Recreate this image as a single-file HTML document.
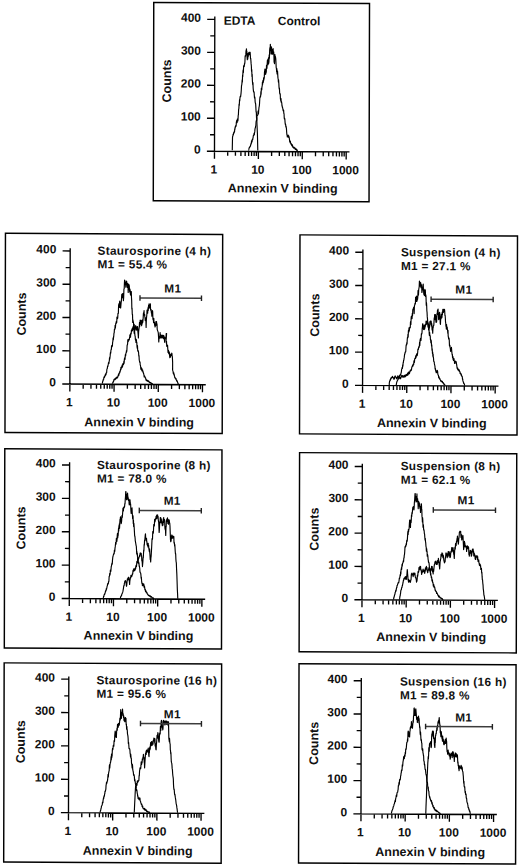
<!DOCTYPE html>
<html><head><meta charset="utf-8"><style>
html,body{margin:0;padding:0;background:#fff;}
svg{display:block;}
text{font-family:"Liberation Sans",sans-serif;font-weight:bold;fill:#111;}
.tl{font-size:12px;}
.tt{font-size:11.8px;letter-spacing:0.3px;}
.at{font-size:12.5px;}
.tt2{font-size:12px;}
.box{fill:none;stroke:#000;stroke-width:1.45;}
.ax{fill:none;stroke:#000;stroke-width:1.35;}
.cv{fill:none;stroke:#000;stroke-width:1.15;stroke-linejoin:round;}
.m1{fill:none;stroke:#3c3c3c;stroke-width:1.5;}
.m1c{fill:none;stroke:#222;stroke-width:1.4;}
</style></head><body>
<svg width="520" height="867" viewBox="0 0 520 867">
<g transform="matrix(1 0.005 -0.0024 1 0.25 -1.31)">
<rect x="153.51" y="2.96" width="215.76" height="198.29" class="box"/>
<path d="M214.6 16.8V159M207 151.5H349.6M207 151.5H214.6M210.1 135.01H214.6M207 118.53H214.6M210.1 102.04H214.6M207 85.55H214.6M210.1 69.06H214.6M207 52.58H214.6M210.1 36.09H214.6M207 19.6H214.6M227.82 151.5V156M235.55 151.5V156M241.03 151.5V156M245.28 151.5V156M248.76 151.5V156M251.7 151.5V156M254.25 151.5V156M256.49 151.5V156M271.72 151.5V156M279.45 151.5V156M284.93 151.5V156M289.18 151.5V156M292.66 151.5V156M295.6 151.5V156M298.15 151.5V156M300.39 151.5V156M258.5 151.5V159M315.62 151.5V156M323.35 151.5V156M328.83 151.5V156M333.08 151.5V156M336.56 151.5V156M339.5 151.5V156M342.05 151.5V156M344.29 151.5V156M302.4 151.5V159M346.3 151.5V159" class="ax"/>
<text x="200.8" y="153.9" class="tl" text-anchor="end">0</text>
<text x="200.8" y="120.93" class="tl" text-anchor="end">100</text>
<text x="200.8" y="87.95" class="tl" text-anchor="end">200</text>
<text x="200.8" y="54.98" class="tl" text-anchor="end">300</text>
<text x="200.8" y="22" class="tl" text-anchor="end">400</text>
<text x="214.1" y="173.8" class="tl" text-anchor="middle">1</text>
<text x="258" y="173.8" class="tl" text-anchor="middle">10</text>
<text x="301.9" y="173.8" class="tl" text-anchor="middle">100</text>
<text x="345.8" y="173.8" class="tl" text-anchor="middle">1000</text>
<text x="282.9" y="192.5" class="at" text-anchor="middle">Annexin V binding</text>
<text transform="translate(170.9 81.4) rotate(-90)" class="at" text-anchor="middle">Counts</text>
<polyline points="232.4,150.5 232.4,149.23 232.6,137.5 232.8,136.2 233,135.93 233.2,134.18 233.4,135.07 233.6,134.07 233.8,132.7 234,132.38 234.2,133.17 234.4,131.18 234.6,132.12 234.8,128.99 235,129.49 235.2,127.08 235.4,127.53 235.6,126.05 235.8,125.81 236,126.46 236.2,125.9 236.4,122.12 236.6,121.7 236.8,120.56 237,122.91 237.2,122.33 237.4,119.25 237.6,120.72 237.8,121.11 238,120.47 238.22,115.64 238.43,114.63 238.65,109.36 238.87,108.79 239.08,104.08 239.3,105.49 239.52,99.79 239.73,101.17 239.95,98.1 240.17,96.59 240.38,96.42 240.6,96.79 240.82,94.95 241.03,93.19 241.25,90.43 241.47,85.64 241.68,85.32 241.9,83.26 242.1,80.02 242.3,82.11 242.5,75.15 242.7,76.57 242.9,71.32 243.1,69.84 243.3,72.68 243.52,65.8 243.73,66.47 243.95,66.28 244.17,66.66 244.38,63.55 244.6,64.06 244.82,61.95 245.04,55.86 245.26,56.11 245.48,56.31 245.7,54.72 245.9,50.59 246.1,51.57 246.3,48.95 246.53,51.89 246.75,51.57 246.97,57.26 247.2,59.68 247.42,53.91 247.64,59.05 247.86,53.53 248.08,56.7 248.3,53.02 248.52,54.16 248.73,54.89 248.95,52.3 249.17,52.67 249.38,54.68 249.6,52.3 249.8,53.09 250,52.3 250.2,55.14 250.4,58.82 250.6,58.23 250.82,61.14 251.03,63.93 251.25,65.86 251.47,71.33 251.68,69.52 251.9,76.61 252.1,74.31 252.3,80.36 252.5,82.83 252.7,84.76 252.9,82.61 253.1,87.98 253.3,89.89 253.5,91.65 253.7,91.21 253.9,92.34 254.1,92.8 254.3,95.8 254.5,97.87 254.7,96.83 254.9,97.69 255.1,101.35 255.3,103.04 255.5,103.21 255.7,104.5 255.9,108.16 256.12,111.99 256.35,111.86 256.57,118.21 256.8,117.72 257.03,124.17 257.27,129.26 257.5,134.12 257.9,150.5" class="cv"/>
<polyline points="248.6,150.5 248.8,150.04 249,149.23 249.2,148.29 249.4,147.64 249.6,147.27 249.8,147.37 250,146.54 250.2,146.88 250.4,146.36 250.6,145.89 250.8,144.64 251,144.6 251.2,143.17 251.4,143.84 251.6,141.33 251.8,140.72 252,142.12 252.2,141.32 252.4,139.47 252.6,139.15 252.8,139.76 253,138.16 253.2,137.57 253.4,135.55 253.6,135.73 253.8,134.8 254,134.57 254.2,133.24 254.4,134.86 254.6,132.82 254.82,131.94 255.03,129.3 255.25,128.14 255.47,127.59 255.68,126.11 255.9,125.85 256.12,121.82 256.33,120.56 256.55,121.1 256.77,119.88 256.98,116.48 257.2,115.24 257.42,115.51 257.63,115.34 257.85,114.92 258.07,111.29 258.28,110.78 258.5,113.85 258.7,110.39 258.9,108.57 259.1,106.61 259.3,106.17 259.53,103.81 259.77,98.77 260,96.75 260.22,97.56 260.43,95.78 260.65,96.15 260.87,91.57 261.08,94.18 261.3,88.34 261.52,89.8 261.73,89.84 261.95,86.5 262.17,86.34 262.38,82.01 262.6,84.24 262.83,80.66 263.07,82.49 263.3,82.15 263.53,77.82 263.77,80.16 264,77.79 264.2,78.15 264.4,72.08 264.6,71.23 264.83,68.96 265.07,73.83 265.3,73.78 265.52,74.34 265.75,73.51 265.98,68.71 266.2,72.19 266.42,65.25 266.64,68.02 266.86,68.35 267.08,63.89 267.3,60.28 267.52,62.5 267.73,59.39 267.95,64.67 268.17,62.52 268.38,57.67 268.6,63.48 268.83,61.63 269.07,54.87 269.3,58.26 269.52,50.38 269.75,47.64 269.98,50.49 270.2,44.3 270.43,49.28 270.67,47.94 270.9,53.94 271.13,47.78 271.37,46.88 271.6,51.88 271.83,49.78 272.07,54.2 272.3,54.19 272.52,49.27 272.75,53.99 272.98,48.53 273.2,52.78 273.4,53.62 273.6,51.86 273.8,55.5 274,62.2 274.2,60.67 274.4,63.54 274.6,56.26 274.8,54.43 275,58.01 275.2,56.29 275.43,57.23 275.65,58.75 275.88,62.8 276.1,67.44 276.33,68.29 276.55,71.74 276.77,68.41 277,73.8 277.23,72.1 277.45,71.05 277.67,74.57 277.9,78.08 278.12,78.62 278.33,81.98 278.55,79.85 278.77,83.15 278.98,87.04 279.2,88.81 279.4,87.92 279.6,92.68 279.8,93.71 280,94.3 280.2,93.73 280.4,98.96 280.6,99.29 280.8,100.96 281,98.46 281.2,102.19 281.4,101.4 281.6,102.15 281.8,103.21 282,105.81 282.2,105.73 282.4,107.33 282.6,107.42 282.8,108.57 283,109.65 283.2,110.8 283.42,110.79 283.63,110.04 283.85,113.41 284.07,113.58 284.28,117.92 284.5,118.92 284.7,118.22 284.9,119.18 285.1,122 285.3,124.1 285.5,123.59 285.7,124.6 285.9,126.75 286.1,125.84 286.3,127.14 286.5,128.52 286.73,132.17 286.97,134.46 287.2,135.08 287.4,136.79 287.6,135.75 287.8,135.83 288,136.34 288.2,134.88 288.4,137 288.6,136.95 288.8,135.8 289,136.25 289.2,137.67 289.4,138.14 289.6,139.72 289.8,141.51 290.03,140.36 290.26,142.65 290.49,141.29 290.71,143.01 290.94,143.59 291.17,144.2 291.4,143.64 291.6,143.65 291.8,145.28 292,144.14 292.2,145.77 292.4,144.68 292.6,145.02 292.8,146.81 293,146.06 293.2,147.03 293.4,147.53 293.6,147.76 293.8,147.88 294,147.5 294.2,147.15 294.4,147.5 294.6,147.4 294.8,148.02 295,148.55 295.2,147.97 295.4,149.17 295.6,148.9 295.8,149.33 296,148.64 296.2,148.71 296.4,149.8 296.6,149.4 296.8,149.91 297,150.16 297.2,149.76 297.4,150.05 297.6,150.34 297.8,150.5" class="cv"/>
<text x="223.5" y="24.9" class="tt2">EDTA</text>
<text x="277.6" y="25.0" class="tt2">Control</text>
</g>
<g transform="matrix(1 0.005 -0.0024 1 0.8 -0.57)">
<rect x="5.22" y="233.88" width="217.22" height="199.08" class="box"/>
<path d="M70 248.4V391.8M62.4 384.3H205.9M62.4 384.3H70M65.5 367.66H70M62.4 351.02H70M65.5 334.39H70M62.4 317.75H70M65.5 301.11H70M62.4 284.48H70M65.5 267.84H70M62.4 251.2H70M83.31 384.3V388.8M91.09 384.3V388.8M96.61 384.3V388.8M100.89 384.3V388.8M104.39 384.3V388.8M107.35 384.3V388.8M109.92 384.3V388.8M112.18 384.3V388.8M127.51 384.3V388.8M135.29 384.3V388.8M140.81 384.3V388.8M145.09 384.3V388.8M148.59 384.3V388.8M151.55 384.3V388.8M154.12 384.3V388.8M156.38 384.3V388.8M114.2 384.3V391.8M171.71 384.3V388.8M179.49 384.3V388.8M185.01 384.3V388.8M189.29 384.3V388.8M192.79 384.3V388.8M195.75 384.3V388.8M198.32 384.3V388.8M200.58 384.3V388.8M158.4 384.3V391.8M202.6 384.3V391.8" class="ax"/>
<text x="56.2" y="386.7" class="tl" text-anchor="end">0</text>
<text x="56.2" y="353.42" class="tl" text-anchor="end">100</text>
<text x="56.2" y="320.15" class="tl" text-anchor="end">200</text>
<text x="56.2" y="286.88" class="tl" text-anchor="end">300</text>
<text x="56.2" y="253.6" class="tl" text-anchor="end">400</text>
<text x="69.5" y="406.6" class="tl" text-anchor="middle">1</text>
<text x="113.7" y="406.6" class="tl" text-anchor="middle">10</text>
<text x="157.9" y="406.6" class="tl" text-anchor="middle">100</text>
<text x="202.1" y="406.6" class="tl" text-anchor="middle">1000</text>
<text x="139.3" y="426.3" class="at" text-anchor="middle">Annexin V binding</text>
<text transform="translate(25.8 314.5) rotate(-90)" class="at" text-anchor="middle">Counts</text>
<text x="97.3" y="254.8" class="tt">Staurosporine (4 h)</text>
<text x="97.3" y="268.3" class="tt">M1 = 55.4 %</text>
<polyline points="102.2,383.6 102.4,383.27 102.6,382.63 102.8,381.34 103,380.59 103.2,381.01 103.4,379.35 103.6,379.27 103.8,379.32 104,377.42 104.2,377.2 104.41,376.62 104.62,377.51 104.83,375.97 105.04,376.38 105.25,375.4 105.46,374.43 105.67,375.39 105.88,373.51 106.09,374.84 106.3,372.87 106.52,372.95 106.73,372.63 106.95,369.57 107.17,368.71 107.38,368.76 107.6,366.72 107.8,365.83 108,366.53 108.2,364.8 108.4,364.18 108.6,362.52 108.8,363.19 109,363.49 109.2,361.4 109.4,360.83 109.6,357.65 109.8,359.27 110,357.78 110.2,355.92 110.4,353.36 110.6,352.06 110.8,353.26 111,350.08 111.2,349.41 111.4,349.42 111.6,345.87 111.8,347.19 112,345.42 112.2,345.74 112.4,346.14 112.63,342.47 112.87,341.28 113.1,337.75 113.32,339.9 113.54,337.62 113.76,336.21 113.98,332.94 114.2,332.86 114.42,328.96 114.65,329.62 114.88,328.96 115.1,325.25 115.3,328.26 115.5,326.32 115.7,323.62 115.9,323.27 116.1,322.4 116.3,321.41 116.5,323.13 116.7,322.43 116.9,317.17 117.1,318.69 117.3,317.42 117.5,318.66 117.7,317.64 117.9,313.4 118.1,313.58 118.3,313.4 118.5,305.85 118.7,304.49 118.9,303.72 119.1,303.53 119.3,307.52 119.5,301.9 119.7,301 119.9,302.56 120.13,306.88 120.37,307.11 120.6,308.02 120.83,305.16 121.07,302.42 121.3,301 121.5,297.18 121.7,294.2 121.9,294.2 122.13,293.95 122.37,297.64 122.6,293.48 122.83,293.7 123.07,294.64 123.3,300.54 123.57,297.74 123.83,288.97 124.1,288.61 124.3,282.84 124.5,280.09 124.7,280.3 124.9,282.32 125.1,283.57 125.3,284.8 125.5,282.83 125.7,287.21 125.9,282.32 126.1,281.47 126.3,283.95 126.5,281.01 126.7,283.83 126.93,283.73 127.17,287.24 127.4,285.21 127.63,283.37 127.87,286.51 128.1,292.36 128.32,285.14 128.55,284.27 128.78,288.98 129,284.7 129.22,286.49 129.44,290.61 129.66,291.96 129.88,289.11 130.1,291.97 130.32,294.29 130.54,295.03 130.76,291.23 130.98,294.4 131.2,291.5 131.4,297.8 131.6,300.45 131.8,308.81 132,308.01 132.23,314.31 132.47,314.49 132.7,322.4 132.9,319.69 133.1,321.41 133.3,321.62 133.5,323.17 133.7,326.29 133.9,326.37 134.1,332.27 134.32,333.48 134.53,329.96 134.75,333.1 134.97,335.62 135.18,336.15 135.4,339.43 135.6,340.22 135.8,338.61 136,342.32 136.2,339.32 136.4,339.71 136.6,342.11 136.8,342.08 137.03,346.35 137.27,348.03 137.5,345.5 137.73,350.19 137.97,351.13 138.2,350.47 138.42,351.35 138.63,352.42 138.85,355.92 139.07,355.41 139.28,359.48 139.5,360.75 139.7,361.56 139.9,362.48 140.1,361.88 140.3,364.91 140.5,365.19 140.7,366.25 140.9,369.16 141.1,369.13 141.3,367.48 141.5,369.17 141.7,370.08 141.9,368.24 142.1,370.74 142.3,369.48 142.5,370.11 142.7,369.78 142.9,371.31 143.1,372.26 143.3,371.75 143.5,373.07 143.7,373.25 143.9,374.12 144.1,375.36 144.3,376.85 144.5,375.7 144.7,375.83 144.9,376.84 145.1,376.76 145.3,376.99 145.5,378.1 145.7,377.73 145.9,378.68 146.1,379.99 146.3,379.16 146.51,380.43 146.72,380.53 146.92,380.47 147.13,380.08 147.34,380.96 147.55,380.24 147.75,380.7 147.96,381.05 148.17,380.34 148.38,381.5 148.58,381.13 148.79,381.51 149,380.99 149.21,381.48 149.42,381.81 149.63,382.42 149.84,382.27 150.05,382.66 150.26,382.37 150.47,382.65 150.68,382.23 150.89,382.68 151.1,383.14 151.31,382.72 151.52,383.14 151.73,383.52 151.94,383.3 152.16,383.42 152.37,383.58 152.58,383.69 152.79,384.02 153,384" class="cv"/>
<polyline points="112.4,383.6 112.6,383.07 112.8,383.11 113,382.34 113.2,381.79 113.4,382.02 113.6,381.8 113.8,380.77 114,379.74 114.2,379.45 114.4,379.86 114.62,379.33 114.83,378.86 115.05,379.63 115.26,379.33 115.48,378.52 115.69,379.09 115.91,378.83 116.12,377.52 116.34,378.44 116.55,377.57 116.77,377.2 116.98,378.27 117.2,377.35 117.4,377.39 117.6,377.67 117.8,377.3 118,375.7 118.2,375.88 118.4,375.89 118.6,374.11 118.8,374.98 119,375.29 119.2,372.94 119.43,373.17 119.67,373.08 119.9,371.23 120.13,372.08 120.37,370.96 120.6,369.27 120.8,369.95 121,367.27 121.2,369.04 121.4,366.93 121.6,367.37 121.8,366.8 122,367.58 122.2,365.08 122.42,367.02 122.65,366.56 122.88,363.67 123.1,363.82 123.33,363.27 123.55,364.74 123.78,363.1 124,360.99 124.22,363.2 124.43,359.35 124.65,358.04 124.87,357.67 125.08,359.36 125.3,355.81 125.5,354.34 125.7,355.8 125.9,353.67 126.1,352.41 126.3,352.8 126.5,350.44 126.7,351.83 126.92,350.41 127.15,345.4 127.38,344.66 127.6,344.23 127.82,339.91 128.04,339.52 128.26,341.61 128.48,339.68 128.7,339.15 128.9,339.63 129.1,339.52 129.3,339.82 129.5,338.21 129.7,336.82 129.9,334.84 130.1,334.82 130.32,335.16 130.53,337.03 130.75,332.87 130.97,333.37 131.18,333.85 131.4,330.01 131.62,331.54 131.83,330.56 132.05,329.91 132.27,328.22 132.48,330.49 132.7,329.9 132.92,326.83 133.14,328.43 133.36,329.24 133.58,324.1 133.8,324.1 134,324.1 134.2,324.59 134.4,329.86 134.6,327.23 134.8,330.48 135.02,328.35 135.23,329.4 135.45,326.94 135.67,325.38 135.88,328.53 136.1,326.8 136.3,327.55 136.5,329.94 136.7,326.8 136.9,327.24 137.1,326.8 137.3,329.83 137.5,326.34 137.72,329.76 137.95,332.11 138.18,334.55 138.4,337.76 138.62,331.6 138.84,329.6 139.06,327.97 139.28,326.6 139.5,322.26 139.72,325.97 139.94,323.12 140.16,320 140.38,322.93 140.6,322.03 140.8,323.16 141,324.38 141.2,320.29 141.4,321.7 141.6,325.59 141.82,322.66 142.05,323.96 142.28,321.25 142.5,319.78 142.72,322.42 142.94,320.1 143.16,317.38 143.38,313.19 143.6,312.61 143.8,311.76 144,310.5 144.2,315.14 144.4,314.47 144.6,314.24 144.8,316.74 145,317.56 145.22,320.36 145.44,317.6 145.66,320.06 145.88,321.38 146.1,327.27 146.32,320.09 146.55,316.71 146.78,314.84 147,309.81 147.2,313 147.4,310.73 147.6,312.96 147.8,309.53 148,307.31 148.2,310.36 148.4,306.26 148.6,304.96 148.8,306.97 149,303.7 149.22,307.96 149.44,305.93 149.66,306.42 149.88,307.2 150.1,305.91 150.3,303.7 150.5,309.24 150.7,309.57 150.9,310.69 151.1,309.48 151.33,312.87 151.57,312.39 151.8,316.06 152.1,314.12 152.4,310.5 152.63,311.47 152.87,318.74 153.1,319.57 153.32,318.7 153.54,322.28 153.76,318.04 153.98,322.59 154.2,323.04 154.4,322.11 154.6,324.96 154.8,323.51 155,326.67 155.2,324.07 155.42,325.9 155.63,325.01 155.85,321.4 156.07,321.4 156.28,322.64 156.5,321.4 156.73,325.23 156.97,323.54 157.2,329.12 157.42,329.87 157.64,330.51 157.86,331.07 158.08,331.52 158.3,332.9 158.55,336.38 158.8,341.63 159.02,338.47 159.24,338.45 159.46,337.61 159.68,336.17 159.9,335.61 160.12,332.3 160.34,337.64 160.56,334.34 160.78,334.66 161,334.98 161.2,337.4 161.4,337.47 161.6,337.68 161.8,335.38 162,335 162.2,336.99 162.4,335 162.64,337.53 162.88,337.33 163.12,335.06 163.36,338.35 163.6,336.77 163.8,335.25 164,338.47 164.2,336.35 164.4,338.04 164.6,341.93 164.8,338.17 165,337.71 165.2,337.82 165.4,338.43 165.6,337.57 165.8,336.51 166,337.88 166.2,333.2 166.4,334.35 166.6,333.2 166.35,337.24 166.1,340.34 166.31,342.68 166.53,341.12 166.74,345.81 166.96,346.22 167.17,344.56 167.39,346.32 167.6,345.07 167.85,349.29 168.1,352.08 168.31,350 168.53,350.2 168.74,353.11 168.96,351.12 169.17,353.8 169.39,352.04 169.6,355.06 169.9,357.33 170.2,357.1 170.4,356.79 170.6,354.82 170.8,353.81 171,354.07 171.2,354.35 171.4,354.61 171.6,355.42 171.8,352.8 172,353.45 172.2,355.9 172.45,357.03 172.7,362.21 172.7,369.64 172.9,370.44 173.1,370.8 173.3,372.27 173.5,373.55 173.7,372.51 173.91,372.5 174.13,374.75 174.34,374.13 174.56,375.88 174.77,376.68 174.99,377.57 175.2,376.94 175.4,377.94 175.6,378.28 175.8,378.77 176,378.47 176.2,378.36 176.4,379.37 176.6,380.16 176.8,380.81 177,379.94 177.2,381.05 177.4,380.92 177.6,381.86 177.8,382.13 178,382.96 178.2,383.14 178.4,383.62 178.6,383.84 178.8,384.3" class="cv"/>
<path d="M139.9 297.8H201.4" class="m1"/>
<path d="M139.9 295V300.6M201.4 295V300.6" class="m1c"/>
<text x="164.2" y="292.25" class="tt">M1</text>
</g>
<g transform="matrix(1 0.005 -0.0024 1 1.32 -0.57)">
<rect x="4.55" y="449.36" width="217.18" height="199.2" class="box"/>
<path d="M69.4 462.45V606.25M61.8 598.75H205.3M61.8 598.75H69.4M64.9 582.06H69.4M61.8 565.38H69.4M64.9 548.69H69.4M61.8 532H69.4M64.9 515.31H69.4M61.8 498.62H69.4M64.9 481.94H69.4M61.8 465.25H69.4M82.71 598.75V603.25M90.49 598.75V603.25M96.01 598.75V603.25M100.29 598.75V603.25M103.79 598.75V603.25M106.75 598.75V603.25M109.32 598.75V603.25M111.58 598.75V603.25M126.91 598.75V603.25M134.69 598.75V603.25M140.21 598.75V603.25M144.49 598.75V603.25M147.99 598.75V603.25M150.95 598.75V603.25M153.52 598.75V603.25M155.78 598.75V603.25M113.6 598.75V606.25M171.11 598.75V603.25M178.89 598.75V603.25M184.41 598.75V603.25M188.69 598.75V603.25M192.19 598.75V603.25M195.15 598.75V603.25M197.72 598.75V603.25M199.98 598.75V603.25M157.8 598.75V606.25M202 598.75V606.25" class="ax"/>
<text x="55.6" y="601.15" class="tl" text-anchor="end">0</text>
<text x="55.6" y="567.77" class="tl" text-anchor="end">100</text>
<text x="55.6" y="534.4" class="tl" text-anchor="end">200</text>
<text x="55.6" y="501.02" class="tl" text-anchor="end">300</text>
<text x="55.6" y="467.65" class="tl" text-anchor="end">400</text>
<text x="68.9" y="621.05" class="tl" text-anchor="middle">1</text>
<text x="113.1" y="621.05" class="tl" text-anchor="middle">10</text>
<text x="157.3" y="621.05" class="tl" text-anchor="middle">100</text>
<text x="201.5" y="621.05" class="tl" text-anchor="middle">1000</text>
<text x="138.7" y="639.75" class="at" text-anchor="middle">Annexin V binding</text>
<text transform="translate(25.2 528.4) rotate(-90)" class="at" text-anchor="middle">Counts</text>
<text x="96.75" y="469" class="tt">Staurosporine (8 h)</text>
<text x="96.75" y="482.5" class="tt">M1 = 78.0 %</text>
<polyline points="103.2,598.4 103.4,597.97 103.6,596.97 103.8,596.27 104,596.49 104.2,594.83 104.4,594.9 104.6,593.82 104.8,594.44 105,593.72 105.2,593.12 105.4,592.16 105.6,591.04 105.8,590.66 106,590.99 106.2,590.47 106.4,588.61 106.6,589.53 106.8,588.52 107,587.54 107.2,586.25 107.43,585.83 107.67,584.01 107.9,583.78 108.13,583.4 108.37,583.91 108.6,581.5 108.8,581.89 109,580.76 109.2,576.82 109.4,576.32 109.6,575.63 109.8,573.34 110,575.05 110.22,573.93 110.43,570.08 110.65,571.13 110.87,571.38 111.08,569.17 111.3,566.45 111.5,566.16 111.7,564.56 111.9,563.57 112.1,562.93 112.3,564.11 112.5,560.13 112.7,558.35 112.92,556.38 113.13,556.24 113.35,554.72 113.57,554.69 113.78,553.82 114,553 114.2,553.84 114.4,550.09 114.6,551.91 114.8,550.86 115,548.09 115.2,546.93 115.4,544.98 115.63,542.24 115.87,544.5 116.1,543.04 116.33,538.41 116.57,541.08 116.8,541.41 117.02,539.74 117.23,535.36 117.45,533.35 117.67,537.86 117.88,535.86 118.1,535.53 118.3,531.65 118.5,527.96 118.7,530.92 118.9,525.67 119.1,528.48 119.3,523.82 119.5,528.13 119.73,522.58 119.97,519.38 120.2,518.62 120.42,516.84 120.65,521.59 120.88,519.45 121.1,523.61 121.32,522.74 121.54,521.19 121.76,516.52 121.98,515.32 122.2,517.52 122.42,515 122.64,511.78 122.86,508.24 123.08,507.9 123.3,510.87 123.5,507.63 123.7,508.43 123.9,506.87 124.1,507.52 124.3,506.93 124.5,506.38 124.7,503.55 124.9,504 125.13,499.47 125.37,496.71 125.6,491.5 125.8,491.5 126,495.68 126.2,494.24 126.4,499.56 126.6,496.45 126.8,499.39 127,499.07 127.2,494.24 127.4,493.03 127.62,495.65 127.85,497.3 128.08,497.7 128.3,500.28 128.53,499.07 128.77,499.19 129,503.87 129.22,504.96 129.44,500.29 129.66,501.61 129.88,499.7 130.1,502.59 130.3,503.99 130.5,503.9 130.7,508.15 130.9,511.34 131.1,513.35 131.4,509.3 131.7,508.78 131.92,507.8 132.14,512.8 132.36,515.22 132.58,518.5 132.8,515.37 133,516.39 133.2,523.36 133.4,520.2 133.6,526.49 133.8,523.11 134.1,526.96 134.4,531.97 134.62,535.89 134.83,535.85 135.05,537.89 135.27,540.73 135.48,541.74 135.7,543.12 135.9,544.29 136.1,545.49 136.3,546.06 136.5,549.22 136.7,553.63 136.9,551.45 137.1,554.72 137.32,553.25 137.53,556.76 137.75,557.53 137.97,560.79 138.18,562.31 138.4,562.96 138.6,561.64 138.8,563.66 139,562.73 139.2,566.11 139.4,565.74 139.6,567.1 139.8,568.32 140.03,572.04 140.27,571.91 140.5,572.52 140.73,573.02 140.97,574.71 141.2,578.2 141.42,576.98 141.63,580.27 141.85,582.19 142.07,583.53 142.28,583.56 142.5,585.42 142.7,583.35 142.9,583.28 143.1,584.99 143.3,585.57 143.5,584 143.7,584.64 143.9,584 144.12,586.44 144.33,587.37 144.55,585.86 144.77,587.41 144.98,589.61 145.2,589.01 145.4,589.24 145.6,591.25 145.8,591.2 146,590.54 146.2,590.91 146.4,592.63 146.6,592.29 146.8,592.09 147,592.25 147.2,593.23 147.4,593.49 147.6,594.06 147.8,593.9 148,594.29 148.2,594.88 148.4,594.83 148.6,595.29 148.8,595.43 149,595.2 149.2,595.11 149.4,595.75 149.6,596.09 149.8,595.55 150,595.77 150.2,595.62 150.4,595.71 150.6,596.81 150.8,596.44 151,596.87 151.2,596.68 151.4,596.38 151.6,596.49 151.8,596.99 152,597.09 152.2,597.57 152.4,597.77 152.6,597.85 152.8,598 153,597.56 153.2,597.75 153.4,598.09 153.6,598.44 153.8,598.14 154,598.4" class="cv"/>
<polyline points="120.2,598.4 120.42,598.15 120.63,597.54 120.85,596.66 121.07,595.95 121.28,596.02 121.5,595.75 121.7,595.5 121.9,594.04 122.1,593.78 122.3,593.71 122.5,592.73 122.7,592.45 122.9,591.88 123.12,590.71 123.35,589.4 123.58,588.02 123.8,586.1 124.03,585.31 124.25,585.51 124.47,583.17 124.7,582.81 124.92,581.06 125.15,581.72 125.38,581.39 125.6,580.6 125.8,581.57 126,581.78 126.2,583.18 126.4,585.03 126.6,586.22 126.82,585.04 127.04,582.53 127.26,580.52 127.48,578.74 127.7,579.22 127.92,579.87 128.13,579.42 128.35,577.2 128.57,578.73 128.78,577.2 129,578.29 129.23,579.96 129.47,581.88 129.7,584.3 129.92,580.91 130.15,579.84 130.38,577.94 130.6,577.01 130.8,577.78 131,575.24 131.2,576.58 131.4,576.53 131.6,575.65 131.8,576.46 132,575.03 132.2,575.2 132.4,573.68 132.6,574.38 132.8,573.56 133,570.83 133.2,569.92 133.4,569.99 133.6,570.68 133.8,568.83 134,571 134.2,569.04 134.4,569.69 134.62,568.63 134.83,570.31 135.05,569.9 135.27,569.6 135.48,567.56 135.7,568.6 135.9,565.77 136.1,566.49 136.3,564.94 136.5,566.47 136.7,563.98 136.9,561.51 137.1,561.12 137.32,561.7 137.53,562.71 137.75,558.53 137.97,557.68 138.18,560.73 138.4,559.39 138.6,558.08 138.8,558.26 139,556.95 139.2,556.62 139.4,556.1 139.6,554.95 139.8,556.66 140.03,553.55 140.27,552.7 140.5,554.51 140.73,553.14 140.97,554.49 141.2,553.12 141.42,555.83 141.63,555.69 141.85,560.54 142.07,560.32 142.28,562.44 142.5,566.41 142.7,563.7 142.9,561.58 143.1,557.52 143.3,557.75 143.5,553.82 143.7,549.83 143.9,551.01 144.12,544.35 144.33,544.98 144.55,540 144.77,540.84 144.98,537.67 145.2,535.28 145.42,533.7 145.64,537.6 145.86,537.95 146.08,538.85 146.3,540.47 146.5,538.08 146.7,541.01 146.9,542.15 147.1,544.53 147.3,542.82 147.52,545.3 147.73,543.47 147.95,546.85 148.17,543.18 148.38,546.11 148.6,545.24 148.8,547.96 149,549.3 149.2,550.58 149.4,551.6 149.6,548.56 149.82,552.79 150.04,555.66 150.26,559.28 150.48,557.85 150.7,561.71 150.92,557.86 151.14,556.16 151.36,552.4 151.58,548.36 151.8,543.53 152.03,538.48 152.25,539.17 152.47,538.75 152.7,531.47 152.9,531.68 153.1,531.59 153.3,533.01 153.5,528.88 153.7,524.36 153.9,526.03 154.1,525.82 154.32,525.41 154.53,519.23 154.75,521.86 154.97,521.32 155.18,520.44 155.4,518.28 155.6,519.15 155.8,518.45 156,516.03 156.2,516.68 156.4,518.45 156.6,514.89 156.8,515.05 157.03,515.05 157.27,516 157.5,514.6 157.73,518.13 157.97,516.02 158.2,519.78 158.42,520.84 158.65,522.18 158.88,527.39 159.1,532.26 159.32,529.87 159.54,524.46 159.76,521.52 159.98,522.91 160.2,517.4 160.4,517.4 160.6,517.4 160.8,522.16 161,519.99 161.2,518.67 161.4,520.45 161.6,520.37 161.82,523.58 162.04,521.67 162.26,525.36 162.48,522.39 162.7,523.59 162.92,524.87 163.15,518.69 163.38,522.23 163.6,517.4 163.8,520.57 164,519.85 164.2,520.47 164.4,519.27 164.6,520.93 164.82,526.73 165.04,528.95 165.26,526.09 165.48,530.79 165.7,535.22 165.9,527.12 166.1,526.55 166.3,520.7 166.5,519.58 166.7,519.23 166.93,518.47 167.17,521.12 167.4,517.65 167.6,519.34 167.8,523.22 168,519.95 168.2,520.09 168.4,523.98 168.6,520.87 168.8,519.39 169,521.89 169.2,519.97 169.4,522.15 169.67,522.88 169.93,525.7 170.2,532.77 170.45,539.33 170.7,541.39 170.9,540.92 171.1,540.47 171.3,535.54 171.5,537.98 171.7,538.25 171.9,534.66 172.1,535.63 172.3,535.7 172.5,536.97 172.72,537.82 172.93,535.7 173.15,536.4 173.37,537.1 173.58,537.14 173.8,536.32 174,542.71 174.2,541.78 174.4,543.12 174.6,545.58 174.8,544.24 175.02,547.68 175.24,551.22 175.46,553.46 175.68,553.39 175.9,558.77 176.13,561.43 176.37,562.65 176.6,568.46 176.9,574.05 177.2,582.36 177.43,589.1 177.67,593.16 177.9,598.4" class="cv"/>
<path d="M139.2 510.3H201.2" class="m1"/>
<path d="M139.2 507.5V513.1M201.2 507.5V513.1" class="m1c"/>
<text x="163.6" y="504.4" class="tt">M1</text>
</g>
<g transform="matrix(1 0.005 -0.0024 1 1.83 -0.56)">
<rect x="3.93" y="663.43" width="217.46" height="199.2" class="box"/>
<path d="M68.6 676.6V820.4M61 812.9H204.5M61 812.9H68.6M64.1 796.21H68.6M61 779.52H68.6M64.1 762.84H68.6M61 746.15H68.6M64.1 729.46H68.6M61 712.77H68.6M64.1 696.09H68.6M61 679.4H68.6M81.91 812.9V817.4M89.69 812.9V817.4M95.21 812.9V817.4M99.49 812.9V817.4M102.99 812.9V817.4M105.95 812.9V817.4M108.52 812.9V817.4M110.78 812.9V817.4M126.11 812.9V817.4M133.89 812.9V817.4M139.41 812.9V817.4M143.69 812.9V817.4M147.19 812.9V817.4M150.15 812.9V817.4M152.72 812.9V817.4M154.98 812.9V817.4M112.8 812.9V820.4M170.31 812.9V817.4M178.09 812.9V817.4M183.61 812.9V817.4M187.89 812.9V817.4M191.39 812.9V817.4M194.35 812.9V817.4M196.92 812.9V817.4M199.18 812.9V817.4M157 812.9V820.4M201.2 812.9V820.4" class="ax"/>
<text x="54.8" y="815.3" class="tl" text-anchor="end">0</text>
<text x="54.8" y="781.92" class="tl" text-anchor="end">100</text>
<text x="54.8" y="748.55" class="tl" text-anchor="end">200</text>
<text x="54.8" y="715.17" class="tl" text-anchor="end">300</text>
<text x="54.8" y="681.8" class="tl" text-anchor="end">400</text>
<text x="68.1" y="835.2" class="tl" text-anchor="middle">1</text>
<text x="112.3" y="835.2" class="tl" text-anchor="middle">10</text>
<text x="156.5" y="835.2" class="tl" text-anchor="middle">100</text>
<text x="200.7" y="835.2" class="tl" text-anchor="middle">1000</text>
<text x="137.9" y="854.9" class="at" text-anchor="middle">Annexin V binding</text>
<text transform="translate(24.8 742.2) rotate(-90)" class="at" text-anchor="middle">Counts</text>
<text x="96.25" y="684.25" class="tt">Staurosporine (16 h)</text>
<text x="96.25" y="697.75" class="tt">M1 = 95.6 %</text>
<polyline points="100.2,812.4 100.43,811.13 100.66,810.71 100.89,810.09 101.11,808.48 101.34,808.25 101.57,806.19 101.8,805.8 102,805.43 102.2,805.13 102.4,804.34 102.6,802.13 102.8,803.06 103,802.73 103.2,800.06 103.42,799.09 103.63,797.57 103.85,798.44 104.07,795.94 104.28,796.01 104.5,796.2 104.7,793.85 104.9,793.74 105.1,791.02 105.3,791.54 105.5,791.11 105.7,789.88 105.9,789.39 106.12,785.37 106.33,784.31 106.55,782.41 106.77,782.89 106.98,783.07 107.2,781.14 107.43,781.23 107.67,779.95 107.9,776.88 108.13,774.23 108.37,776.86 108.6,773.17 108.8,772.31 109,771.05 109.2,770.67 109.4,765.58 109.6,764.51 109.8,767.9 110,764.93 110.22,763.75 110.43,762.12 110.65,762.24 110.87,759.67 111.08,756.61 111.3,759.85 111.5,754.1 111.7,757.86 111.9,756.15 112.1,755.86 112.3,750.37 112.5,748.44 112.7,749.74 112.92,749.06 113.13,746.44 113.35,745 113.57,746.05 113.78,746.16 114,740.86 114.23,740.74 114.47,741.55 114.7,735.44 115.1,731 115.3,731.86 115.5,733.18 115.7,736.88 115.9,736.48 116.1,734.6 116.32,737.43 116.53,731.43 116.75,730.31 116.97,728.06 117.18,730.11 117.4,724.64 117.6,724.37 117.8,724.89 118,723.74 118.2,727.07 118.4,723.3 118.67,724.93 118.93,724.31 119.2,725.23 119.4,722.91 119.6,720.79 119.8,717.93 120,719.72 120.2,719.87 120.6,709.54 120.83,711.7 121.07,716.86 121.3,718.4 121.53,714.19 121.75,712.41 121.97,712.36 122.2,712.81 122.4,708.96 122.6,712.3 122.8,715.48 123,713.5 123.2,715.01 123.42,717.52 123.64,715.65 123.86,720.2 124.08,720.81 124.3,719.2 124.53,718.24 124.75,721.53 124.97,717.39 125.2,719.94 125.42,717.4 125.64,721.16 125.86,718.31 126.08,724.65 126.3,723.88 126.53,729.06 126.77,726.36 127,728.83 127.22,730.5 127.43,733.99 127.65,734.81 127.87,736.05 128.08,738.48 128.3,743.42 128.53,742.12 128.77,745.09 129,748.47 129.23,748.22 129.47,748.46 129.7,749.01 129.9,750.22 130.1,753.39 130.3,754.07 130.5,756.75 130.7,753.98 130.9,756.01 131.1,758.46 131.31,758.13 131.52,763 131.73,763.92 131.94,765.71 132.16,767.72 132.37,764.2 132.58,765.71 132.79,769.84 133,770.61 133.2,771.63 133.4,772.41 133.6,775.1 133.8,774.2 134,774.67 134.2,775.24 134.4,776.58 134.62,780.58 134.83,778.87 135.05,780.45 135.27,781.83 135.48,783.57 135.7,784.6 135.9,784.68 136.1,787.65 136.3,789.7 136.5,790.47 136.7,789.34 136.9,790.38 137.1,791.07 137.32,793.35 137.53,793.66 137.75,796.07 137.97,795.63 138.18,798.25 138.4,797.59 138.6,797.46 138.8,798.68 139,799.22 139.2,799.44 139.4,797.73 139.6,798.31 139.8,799.36 140.03,798 140.27,800.88 140.5,800.95 140.73,801.51 140.97,803.11 141.2,803.12 141.4,804.19 141.6,803.97 141.8,803.89 142,804.5 142.2,806.36 142.4,805.88 142.6,807.12 142.8,805.88 143,807.62 143.2,808.14 143.4,808.47 143.6,808.53 143.8,808.39 144,809.04 144.2,808.57 144.4,809.2 144.6,808.27 144.8,808.44 145,808.61 145.2,810.17 145.4,809.92 145.6,809.55 145.8,810.05 146,809.49 146.2,810.24 146.4,809.85 146.6,810.95 146.8,811.23 147,810.94 147.2,811.25 147.4,811.03 147.6,811.69 147.8,811.31 148,811.96 148.2,811.77 148.4,811.6 148.6,811.74 148.8,812.12 149,812.16 149.2,811.89 149.4,812.02 149.6,812.36 149.8,812.19 150,812.4" class="cv"/>
<polyline points="134.4,812.4 134.7,804.96 135,798.95 135.23,793.09 135.47,789 135.7,785.62 135.9,786.8 136.1,787.75 136.3,783.46 136.5,785.51 136.7,784.96 136.9,785.33 137.1,784.39 137.33,780.91 137.56,780.62 137.79,782.37 138.01,781.18 138.24,781.3 138.47,780.48 138.7,780.57 138.92,780.21 139.14,775.49 139.36,775.49 139.58,770.85 139.8,769.62 140.03,767.68 140.27,768.82 140.5,768.35 140.73,768.38 140.97,765.52 141.2,761.76 141.42,763.33 141.64,764.37 141.86,761.69 142.08,762.77 142.3,758.77 142.52,759.49 142.73,759.07 142.95,756.86 143.17,757.36 143.38,754.1 143.6,756.71 143.8,757.94 144,757.17 144.2,761.88 144.4,762.82 144.6,767.69 144.82,763.72 145.05,760.01 145.28,756.81 145.5,753.13 145.72,754.35 145.94,751.4 146.16,754.29 146.38,749.98 146.6,752.83 146.8,751.4 147,751.33 147.2,751.84 147.4,751.44 147.6,750.06 147.8,749.22 148,750.11 148.2,747.78 148.4,750.56 148.6,752.84 148.8,755.48 149,756.46 149.2,750.66 149.4,752.35 149.6,747.42 149.8,749.64 150,746.32 150.2,748.74 150.4,744.61 150.6,742.43 150.8,744.82 151,742.48 151.2,743.26 151.4,741.31 151.62,745.42 151.85,743.56 152.08,745.13 152.3,742.97 152.52,743.63 152.74,741.04 152.96,744.05 153.18,740.32 153.4,739.93 153.62,739.89 153.84,737.83 154.06,740.79 154.28,738.22 154.5,738.72 154.7,742.64 154.9,738.66 155.1,745.73 155.3,743.25 155.5,744.44 155.7,747.98 155.9,749.46 156.12,749.58 156.35,744.12 156.58,742.02 156.8,738.7 157,735.09 157.2,737.11 157.4,737.89 157.6,734.91 157.8,732.4 158.02,733.14 158.24,736.6 158.46,738.02 158.68,740.66 158.9,742.04 159.1,741.9 159.3,738.15 159.5,733.85 159.7,732.5 159.9,733.3 160.1,733.79 160.3,726.26 160.5,730.17 160.7,730.23 160.9,725.34 161.15,720.74 161.4,720.1 161.62,720.71 161.83,726.02 162.05,726.99 162.27,727.9 162.48,727.9 162.7,729.7 162.93,727.84 163.17,721.29 163.4,720.1 163.6,720.8 163.8,722.21 164,720.8 164.2,722.41 164.4,723.56 164.6,720.99 164.8,724.6 165,720.8 165.2,720.91 165.4,722.39 165.6,722.73 165.8,720.8 166,723.6 166.2,724.15 166.4,721.92 166.6,720.8 166.8,723.21 167.03,723.31 167.26,723.29 167.49,721.5 167.71,724.69 167.94,721.5 168.17,722.28 168.4,721.58 168.6,729.95 168.8,738.13 169.03,739.65 169.27,741.47 169.5,738.15 169.7,741.43 169.9,743.23 170.1,743.63 170.3,749.67 170.5,750.15 170.7,753.3 170.9,752.29 171.12,757.9 171.33,761.64 171.55,762.4 171.77,763.08 171.98,765.07 172.2,768.34 172.43,769.31 172.67,773.15 172.9,775.47 173.13,776.79 173.37,778.69 173.6,785.05 173.8,787.55 174,789.24 174.2,788.63 174.4,790.84 174.6,793.46 174.8,794.54 175,793.92 175.22,795.76 175.43,797.33 175.65,798.55 175.87,799.97 176.08,801.87 176.3,803.71 176.53,804.2 176.77,805.53 177,807.31 177.23,808.78 177.47,810.92 177.7,812.4" class="cv"/>
<path d="M140.4 723.4H201.35" class="m1"/>
<path d="M140.4 720.6V726.2M201.35 720.6V726.2" class="m1c"/>
<text x="163.7" y="718" class="tt">M1</text>
</g>
<g transform="matrix(1 0.005 -0.0024 1 0.8 -2.04)">
<rect x="299.76" y="235.41" width="217.5" height="199.03" class="box"/>
<path d="M362.7 249.7V393.1M355.1 385.6H498.6M355.1 385.6H362.7M358.2 368.96H362.7M355.1 352.33H362.7M358.2 335.69H362.7M355.1 319.05H362.7M358.2 302.41H362.7M355.1 285.77H362.7M358.2 269.14H362.7M355.1 252.5H362.7M376.01 385.6V390.1M383.79 385.6V390.1M389.31 385.6V390.1M393.59 385.6V390.1M397.09 385.6V390.1M400.05 385.6V390.1M402.62 385.6V390.1M404.88 385.6V390.1M420.21 385.6V390.1M427.99 385.6V390.1M433.51 385.6V390.1M437.79 385.6V390.1M441.29 385.6V390.1M444.25 385.6V390.1M446.82 385.6V390.1M449.08 385.6V390.1M406.9 385.6V393.1M464.41 385.6V390.1M472.19 385.6V390.1M477.71 385.6V390.1M481.99 385.6V390.1M485.49 385.6V390.1M488.45 385.6V390.1M491.02 385.6V390.1M493.28 385.6V390.1M451.1 385.6V393.1M495.3 385.6V393.1" class="ax"/>
<text x="348.9" y="388" class="tl" text-anchor="end">0</text>
<text x="348.9" y="354.73" class="tl" text-anchor="end">100</text>
<text x="348.9" y="321.45" class="tl" text-anchor="end">200</text>
<text x="348.9" y="288.17" class="tl" text-anchor="end">300</text>
<text x="348.9" y="254.9" class="tl" text-anchor="end">400</text>
<text x="362.2" y="407.9" class="tl" text-anchor="middle">1</text>
<text x="406.4" y="407.9" class="tl" text-anchor="middle">10</text>
<text x="450.6" y="407.9" class="tl" text-anchor="middle">100</text>
<text x="494.8" y="407.9" class="tl" text-anchor="middle">1000</text>
<text x="432" y="427.2" class="at" text-anchor="middle">Annexin V binding</text>
<text transform="translate(319.1 315.6) rotate(-90)" class="at" text-anchor="middle">Counts</text>
<text x="400.75" y="256.25" class="tt">Suspension (4 h)</text>
<text x="400.75" y="270" class="tt">M1 = 27.1 %</text>
<polyline points="396.2,385.3 396.42,384.63 396.63,383.44 396.85,382.31 397.07,381.55 397.28,381.52 397.5,380.36 397.73,380.36 397.97,379.99 398.2,378.69 398.43,377.4 398.67,378.98 398.9,378.02 399.1,377.36 399.3,377.9 399.5,376.55 399.7,375.36 399.9,376.23 400.1,375.7 400.3,374.72 400.5,375.25 400.72,374.14 400.94,374.33 401.16,372.81 401.38,372.51 401.6,370.36 401.83,368.81 402.07,368.75 402.3,367.24 402.53,368.51 402.77,364.74 403,366.35 403.22,362.48 403.43,362.7 403.65,360.39 403.87,360.45 404.08,358.73 404.3,357.68 404.52,355.47 404.74,353.9 404.96,354.04 405.18,352.03 405.4,352.12 405.6,352.13 405.8,351.36 406,347.79 406.2,345 406.4,344.79 406.62,344.92 406.84,342.52 407.06,343.92 407.28,339.21 407.5,337.22 407.73,338.06 407.95,334.25 408.17,336.89 408.4,330.68 408.6,330.07 408.8,331.96 409,327.82 409.2,331.07 409.4,329.89 409.6,328.03 409.8,327.04 410.02,327.23 410.23,327.71 410.45,321.98 410.67,321.44 410.88,324.34 411.1,318.16 411.33,316.4 411.57,317.65 411.8,316.18 412.03,318.56 412.27,313.27 412.5,315.6 412.73,309.44 412.97,309.36 413.2,308.54 413.43,308.4 413.65,307.19 413.88,307.66 414.1,313.57 414.37,305.67 414.63,305.23 414.9,303.42 415.1,304 415.3,303.87 415.5,297.18 415.7,298.17 415.9,296.9 416.12,301.3 416.35,298.92 416.57,296.04 416.8,301.43 417.02,300.58 417.25,297.73 417.48,299.39 417.7,296.99 417.93,290.57 418.15,290.32 418.38,295.02 418.6,289.58 418.83,288.21 419.07,286.86 419.3,280.94 419.52,283.33 419.75,282.98 419.98,282.34 420.2,286.2 420.43,283.05 420.65,282.84 420.88,287.66 421.1,285.26 421.33,287.33 421.55,284.79 421.77,292.44 422,291.41 422.22,289.9 422.44,287.1 422.66,287.55 422.88,289 423.1,284.03 423.3,288.69 423.5,290.85 423.7,294.17 423.9,293.65 424.1,294.71 424.33,295.55 424.55,290.73 424.77,289.14 425,293.44 425.23,290.1 425.47,296.4 425.7,294.74 425.93,296.55 426.17,305.03 426.4,302.49 426.6,305.45 426.8,310.64 427,312.21 427.23,316.8 427.47,318.77 427.7,323.11 427.93,324.82 428.17,326.47 428.4,323.96 428.6,329.77 428.8,326.41 429,328.31 429.2,333.44 429.4,335.3 429.6,332.2 429.8,334.9 430.02,336.06 430.23,335.7 430.45,339.65 430.67,339.36 430.88,342.51 431.1,339.96 431.33,341.29 431.57,345.92 431.8,344.75 432.03,350.23 432.27,348.65 432.5,353.36 432.72,351.84 432.93,356.19 433.15,354.07 433.37,357.29 433.58,358.05 433.8,361.22 434.03,361.4 434.27,361.89 434.5,363.77 434.73,365.08 434.97,365.42 435.2,368.9 435.43,368.27 435.67,370.3 435.9,371.1 436.1,371.04 436.3,372.6 436.5,370.91 436.7,372.45 436.9,370.69 437.1,370.14 437.3,371.89 437.5,370.4 437.72,371.45 437.94,374.06 438.16,374.53 438.38,375.24 438.6,375.65 438.8,377.52 439,377.71 439.2,376.75 439.4,377.85 439.6,378.66 439.8,378.16 440,378.54 440.2,379.58 440.4,379.56 440.6,380.19 440.82,381.07 441.03,380.6 441.25,380.88 441.46,381.53 441.68,380.93 441.89,380.79 442.11,381.64 442.32,381.62 442.54,381.47 442.75,382.51 442.97,382.77 443.18,382.73 443.4,382.89 443.6,382.6 443.8,383.88 444,383.84 444.2,383.84 444.4,384.04 444.6,384.06 444.8,384.26 445,384.79 445.2,385.11 445.4,385.3" class="cv"/>
<polyline points="389.4,385.3 389.4,383.49 389.62,381.87 389.83,381.4 390.05,380.48 390.27,379.74 390.48,380.26 390.7,379.68 390.91,378.08 391.12,378.79 391.33,378.13 391.54,377.8 391.75,378.18 391.96,377.43 392.17,377.74 392.38,376.51 392.59,376.44 392.8,377.13 393.02,377.25 393.23,377.77 393.45,378.01 393.67,377.81 393.88,378.96 394.1,379.41 394.33,378.07 394.57,378.84 394.8,376.71 395.03,377.49 395.27,375.8 395.5,376.96 395.72,376.86 395.93,377.05 396.15,377.03 396.37,377.57 396.58,378.72 396.8,378.15 397.03,378.95 397.27,377.35 397.5,377.83 397.73,376.71 397.97,375.8 398.2,376.27 398.4,377.13 398.6,377.55 398.8,377.53 399,377.21 399.2,377.92 399.4,376.93 399.6,377.39 399.82,378.07 400.03,377.99 400.25,378.98 400.47,377.56 400.68,378.54 400.9,378.18 401.12,377.44 401.35,376.6 401.57,375.55 401.8,376.68 402,376.59 402.2,375.72 402.4,376.82 402.6,375.62 402.8,376.22 403,377.3 403.2,376.01 403.4,375.98 403.6,376.31 403.81,377.2 404.02,376.92 404.23,375.59 404.44,375.3 404.66,377.06 404.87,376.83 405.08,376.93 405.29,375.3 405.5,376.45 405.7,375.87 405.9,375.32 406.1,374.7 406.3,375.59 406.5,375.31 406.7,374.3 406.9,375.6 407.1,374.48 407.3,374.93 407.51,374.8 407.72,373.08 407.93,375.08 408.14,372.91 408.36,373.34 408.57,374.24 408.78,372.49 408.99,371.82 409.2,372.94 409.4,373.75 409.6,373.29 409.8,372.28 410,371.67 410.2,371.41 410.4,370.14 410.6,370.33 410.83,370.78 411.07,369.88 411.3,370.36 411.53,369.87 411.77,367.99 412,366.73 412.22,366.91 412.43,366.29 412.65,364.95 412.87,365.76 413.08,366.03 413.3,364.12 413.53,364.48 413.77,364.54 414,360.85 414.23,361.94 414.47,362.49 414.7,359.6 414.91,358.55 415.12,358.01 415.33,358.47 415.54,358.46 415.75,355.7 415.95,357.88 416.16,356.73 416.37,356.2 416.58,354.35 416.79,354.01 417,353.51 417.24,355.64 417.48,354.43 417.72,352.42 417.96,349.08 418.2,348.79 418.44,349.44 418.68,347.33 418.92,346.46 419.16,347.4 419.4,345.92 419.62,342.03 419.85,345.5 420.07,339.95 420.3,339.45 420.52,338.19 420.75,340.69 420.98,340.33 421.2,337.3 421.4,333.62 421.6,334.12 421.8,333.76 422,332.64 422.2,328.37 422.4,327.12 422.6,323.7 422.83,323.7 423.07,326.07 423.3,328.15 423.53,329.27 423.77,328.46 424,329.53 424.2,325.61 424.4,324.92 424.6,329.03 424.8,328.06 425,325.74 425.2,326.98 425.4,324.92 425.6,324.01 425.8,324.75 426.03,321.08 426.27,320.9 426.5,322.42 426.73,324.11 426.97,323.13 427.2,322.9 427.4,320.9 427.6,321.85 427.8,322.59 428,322.76 428.2,326.52 428.4,327.72 428.6,328.2 428.81,328.92 429.02,325.19 429.23,328 429.44,327.53 429.65,326.32 429.85,321.39 430.06,324.48 430.27,321.06 430.48,320.9 430.69,320.9 430.9,320.9 431.1,320.9 431.3,322.63 431.5,325.85 431.7,323.35 431.9,326.53 432.1,329.87 432.3,326.78 432.5,328.82 432.7,333.12 432.92,328.25 433.14,327.73 433.36,325.57 433.58,325.66 433.8,324.88 434,321.27 434.2,317.73 434.4,319.33 434.6,314.4 434.82,317.79 435.03,316.68 435.25,319.49 435.47,314.52 435.68,315.98 435.9,321.97 436.15,321.1 436.4,322.17 436.6,321.65 436.8,317.94 437,313.27 437.2,314.52 437.4,310.44 437.6,309.79 437.8,312.01 438,308.97 438.2,314.65 438.4,312.81 438.6,319.45 438.82,319.18 439.04,316.07 439.26,318.22 439.48,312.09 439.7,312.72 439.95,316.32 440.2,323.12 440.42,324.33 440.64,319.06 440.86,316.51 441.08,318.57 441.3,314.05 441.52,316.87 441.74,317.55 441.96,316.85 442.18,311.89 442.4,314.32 442.6,311.35 442.8,309.2 443,309.2 443.2,309.2 443.4,312.21 443.62,310.66 443.85,309.2 444.07,309.2 444.3,309.2 444.5,309.42 444.7,311.71 444.9,315.4 445.1,315.24 445.3,317.77 445.5,321.83 445.7,322.63 445.9,325.93 446.1,324.31 446.32,328.7 446.53,324.39 446.75,328.91 446.97,326.71 447.18,326.92 447.4,329.42 447.6,330.22 447.8,333.11 448,330.06 448.2,336.09 448.4,336.61 448.62,338.86 448.84,338.94 449.06,337.94 449.28,339.93 449.5,345.68 449.72,344.88 449.94,345.11 450.16,347.57 450.38,348.36 450.6,351.1 450.83,349.57 451.05,349.2 451.27,348.56 451.5,347.22 451.73,350.39 451.97,352.62 452.2,354.54 452.4,354.13 452.6,357.44 452.8,356.88 453,356.23 453.2,359.44 453.4,357.77 453.6,360.24 453.82,359.63 454.03,358.38 454.25,360.16 454.47,361.26 454.68,363.19 454.9,360.82 455.1,361.16 455.3,360.97 455.5,361.16 455.7,361.17 455.9,361.26 456.1,363.09 456.3,361.46 456.52,363.49 456.74,364.42 456.96,366.04 457.18,367.93 457.4,367.59 457.6,368.81 457.8,367.71 458,369.8 458.2,369.83 458.4,369.15 458.6,369.01 458.8,370.27 459,370.54 459.2,369.63 459.4,369.97 459.6,371.14 459.8,371.43 460,371.33 460.2,373.11 460.4,372.54 460.6,373.33 460.83,372.88 461.07,374.57 461.3,373.73 461.53,374.62 461.77,375.9 462,376.04 462.2,375.82 462.4,376.68 462.6,378.84 462.8,378.58 463,380.4 463.2,381 463.4,381.97 463.6,381.79 463.8,383.22 464.04,382.87 464.28,383.4 464.52,384.07 464.76,385.1 465,385.3" class="cv"/>
<path d="M431 299.1H493.1" class="m1"/>
<path d="M431 296.3V301.9M493.1 296.3V301.9" class="m1c"/>
<text x="455.2" y="293.4" class="tt">M1</text>
</g>
<g transform="matrix(1 0.005 -0.0024 1 1.33 -2.04)">
<rect x="299.34" y="453.18" width="217.16" height="199.19" class="box"/>
<path d="M362.1 463.95V607.5M354.5 600H498M354.5 600H362.1M357.6 583.34H362.1M354.5 566.69H362.1M357.6 550.03H362.1M354.5 533.38H362.1M357.6 516.72H362.1M354.5 500.06H362.1M357.6 483.41H362.1M354.5 466.75H362.1M375.41 600V604.5M383.19 600V604.5M388.71 600V604.5M392.99 600V604.5M396.49 600V604.5M399.45 600V604.5M402.02 600V604.5M404.28 600V604.5M419.61 600V604.5M427.39 600V604.5M432.91 600V604.5M437.19 600V604.5M440.69 600V604.5M443.65 600V604.5M446.22 600V604.5M448.48 600V604.5M406.3 600V607.5M463.81 600V604.5M471.59 600V604.5M477.11 600V604.5M481.39 600V604.5M484.89 600V604.5M487.85 600V604.5M490.42 600V604.5M492.68 600V604.5M450.5 600V607.5M494.7 600V607.5" class="ax"/>
<text x="348.3" y="602.4" class="tl" text-anchor="end">0</text>
<text x="348.3" y="569.09" class="tl" text-anchor="end">100</text>
<text x="348.3" y="535.77" class="tl" text-anchor="end">200</text>
<text x="348.3" y="502.46" class="tl" text-anchor="end">300</text>
<text x="348.3" y="469.15" class="tl" text-anchor="end">400</text>
<text x="361.6" y="622.3" class="tl" text-anchor="middle">1</text>
<text x="405.8" y="622.3" class="tl" text-anchor="middle">10</text>
<text x="450" y="622.3" class="tl" text-anchor="middle">100</text>
<text x="494.2" y="622.3" class="tl" text-anchor="middle">1000</text>
<text x="431.4" y="641.2" class="at" text-anchor="middle">Annexin V binding</text>
<text transform="translate(318.4 529.6) rotate(-90)" class="at" text-anchor="middle">Counts</text>
<text x="400.5" y="470" class="tt">Suspension (8 h)</text>
<text x="400.5" y="483.75" class="tt">M1 = 62.1 %</text>
<polyline points="393.4,599.6 393.61,599.26 393.82,598.66 394.03,596.94 394.24,597.26 394.45,596.25 394.66,595.01 394.87,594.8 395.08,593.89 395.29,592.32 395.5,592.24 395.7,591.41 395.9,590.08 396.1,591.17 396.3,589.94 396.5,588.41 396.7,587.3 396.9,587.71 397.1,585.82 397.3,585.4 397.5,585.4 397.71,584.26 397.92,583.94 398.13,582.89 398.34,582.8 398.55,582.18 398.76,582.87 398.97,581.75 399.18,580.27 399.39,578.12 399.6,578.72 399.82,577.6 400.03,576.33 400.25,574.61 400.47,575.76 400.68,571.88 400.9,573.97 401.1,569.47 401.3,569.38 401.5,567.65 401.7,569.44 401.9,566.25 402.1,564.46 402.3,566.32 402.52,563.23 402.73,563.17 402.95,563 403.17,561.74 403.38,560.5 403.6,561.76 403.83,558.03 404.07,557.93 404.3,555.14 404.53,554.31 404.77,551.06 405,546.71 405.23,547.26 405.47,546.32 405.7,545.32 405.93,546.11 406.17,543.68 406.4,544.68 406.62,541.27 406.83,540.18 407.05,541.45 407.27,540.26 407.48,536.89 407.7,532.9 407.9,531.4 408.1,534.53 408.3,529.46 408.5,531.98 408.7,529.72 408.9,529.44 409.1,527.99 409.33,523.5 409.57,520.09 409.8,521.47 410.1,521.32 410.4,527.39 410.6,520.12 410.8,521.37 411,522.65 411.2,519.87 411.4,514.97 411.62,516.68 411.84,512.44 412.06,514.03 412.28,511.82 412.5,509.34 412.72,507.36 412.94,507.46 413.16,506.57 413.38,507.19 413.6,508.44 413.83,509.9 414.05,507.4 414.27,502.2 414.5,500.16 414.9,493.5 415.1,493.5 415.3,499.33 415.5,500.26 415.7,496.2 415.9,501.94 416.12,501.85 416.35,496.37 416.57,500.18 416.8,493.9 417.02,501.44 417.24,498.76 417.46,498.56 417.68,501.54 417.9,504.19 418.1,508.56 418.3,503.81 418.5,501.32 418.7,503.27 418.9,505.31 419.1,502.4 419.3,506.18 419.52,503.44 419.74,508.1 419.96,507.02 420.18,508.01 420.4,512.37 420.62,506.35 420.85,509.51 421.07,506.79 421.3,503.79 421.5,508.56 421.7,509.54 421.9,516.07 422.1,517.54 422.3,521.86 422.52,517.6 422.73,520.45 422.95,527.14 423.17,524.38 423.38,525.27 423.6,529.87 423.83,529.43 424.07,530.43 424.3,533.43 424.53,533.93 424.77,537.18 425,539.83 425.23,538.17 425.47,541.4 425.7,542.82 425.93,546.24 426.17,546.98 426.4,551.17 426.62,548.45 426.83,550.34 427.05,551.35 427.27,556.15 427.48,554.19 427.7,555.01 427.9,556.52 428.1,559.22 428.3,560.01 428.5,562.2 428.7,561.98 428.9,562.29 429.1,563.28 429.32,565.71 429.53,568.45 429.75,568 429.97,569.65 430.18,570.53 430.4,571.58 430.6,574.64 430.8,573 431,575.47 431.2,575.58 431.4,577.56 431.6,576.77 431.8,577.79 432.03,580.87 432.27,579.39 432.5,579.99 432.73,582.38 432.97,582.27 433.2,583.71 433.42,586.12 433.63,586.16 433.85,584.5 434.07,587.04 434.28,585.94 434.5,587.13 434.73,586.99 434.97,588.18 435.2,590.13 435.43,589.84 435.67,590.97 435.9,590.78 436.1,591.4 436.3,591.6 436.5,591.41 436.7,593.38 436.9,592.47 437.1,592.95 437.3,593.36 437.5,593.53 437.7,594.11 437.9,594.88 438.11,595.07 438.32,594.9 438.52,596 438.73,596.71 438.94,596.86 439.15,595.76 439.35,596.96 439.56,596.47 439.77,596.55 439.98,597.15 440.18,597.77 440.39,597.77 440.6,597.57 440.82,597.53 441.03,597.66 441.25,598.42 441.46,598.09 441.68,598.28 441.89,598.69 442.11,598.31 442.32,598.49 442.54,598.72 442.75,599.41 442.97,599.36 443.18,599.71 443.4,599.6" class="cv"/>
<polyline points="399.6,599.6 399.82,598.17 400.03,596.14 400.25,596.11 400.47,594.15 400.68,593.36 400.9,590.69 401.1,590.13 401.3,589.88 401.5,589.28 401.7,587.69 401.9,587.55 402.1,587.48 402.3,585.75 402.52,585.55 402.73,584.41 402.95,583.47 403.17,582.48 403.38,580.58 403.6,580.72 403.83,579.36 404.07,578.26 404.3,578.5 404.53,578.39 404.77,577.73 405,577.2 405.23,579.19 405.47,576.65 405.7,578.82 405.93,578.15 406.17,577.45 406.4,579.49 406.62,576.51 406.85,575.86 407.07,573.26 407.3,569.52 407.5,571.31 407.7,574.91 407.9,576.18 408.1,580.03 408.33,578.99 408.57,582.08 408.8,582.24 409.03,579.84 409.27,581.34 409.5,581.75 409.73,580.51 409.97,581.84 410.2,581.5 410.43,582.29 410.67,581.16 410.9,579.8 411.12,579.52 411.35,575.01 411.57,573.66 411.8,574.82 412.03,573.1 412.27,574.41 412.5,574.15 412.73,575.23 412.97,574.19 413.2,576.56 413.42,574.99 413.63,573.1 413.85,573.1 414.07,574.97 414.28,573.1 414.5,573.5 414.73,573.54 414.97,573.22 415.2,575.72 415.43,577.25 415.67,577.56 415.9,577.58 416.12,579 416.35,579.18 416.57,582.05 416.8,580.51 417.02,581.19 417.24,578.85 417.46,575.1 417.68,576.25 417.9,574.81 418.12,571.57 418.34,571.7 418.56,572.3 418.78,571.55 419,567.55 419.23,569.97 419.47,569.21 419.7,569.13 419.93,566.42 420.17,566.3 420.4,568.17 420.62,566.52 420.83,570.02 421.05,569.62 421.27,569.8 421.48,572.28 421.7,574.45 421.9,573.04 422.1,571.56 422.3,571.43 422.5,570.77 422.7,571.99 422.9,570.06 423.1,569.1 423.33,570.4 423.57,571.37 423.8,570.75 424.03,571.88 424.27,569.88 424.5,572.37 424.75,573.25 425,571.5 425.23,571.47 425.47,567.69 425.7,570.07 425.93,568.46 426.17,569.2 426.4,566.3 426.62,567.75 426.83,567.11 427.05,568.2 427.27,571.08 427.48,570.35 427.7,572.57 427.9,572.15 428.1,570.26 428.3,570.37 428.5,569.33 428.7,569.55 428.9,567.6 429.1,569.86 429.32,569.1 429.53,568.15 429.75,569.68 429.97,571.09 430.18,568.68 430.4,572.46 430.6,569.62 430.8,570.98 431,569.01 431.2,570.08 431.4,569.56 431.6,566.3 431.8,567.59 432.03,569.15 432.27,566.52 432.5,570.97 432.73,572.01 432.97,570.56 433.2,573.77 433.42,568.95 433.63,571.45 433.85,569.75 434.07,567.4 434.28,565.53 434.5,563.92 434.73,564.13 434.97,561.72 435.2,562.8 435.43,562.97 435.67,561.25 435.9,560.9 436.12,563.18 436.33,564.38 436.55,561.95 436.77,564.18 436.98,563.27 437.2,564.33 437.4,563.09 437.6,560.37 437.8,562.7 438,561.49 438.2,561.76 438.4,558.2 438.6,559.97 438.82,561.9 439.04,562.33 439.26,564.99 439.48,566.61 439.7,568.7 439.93,565.31 440.15,561.29 440.38,560.8 440.6,558.94 440.83,558.21 441.07,554.23 441.3,556.06 441.53,555.22 441.77,555.23 442,552.7 442.23,555.67 442.47,555.54 442.7,553.69 442.93,557.47 443.17,555.25 443.4,555.46 443.62,557.68 443.83,559.9 444.05,561.03 444.27,561.41 444.48,562.8 444.7,560.84 444.9,561.35 445.1,561.66 445.3,558.27 445.5,557.32 445.7,555.83 445.9,552.87 446.1,552.76 446.32,555.53 446.53,553.42 446.75,555.55 446.97,555.65 447.18,557.53 447.4,553.76 447.6,556.48 447.8,552.82 448,556.45 448.2,551.4 448.4,554.44 448.6,554.24 448.8,552.87 449.03,551.4 449.27,555.25 449.5,552.46 449.73,556.49 449.97,557.53 450.2,555.39 450.42,556.93 450.63,553.91 450.85,551.48 451.07,551.19 451.28,551.99 451.5,549.48 451.73,547.47 451.97,550.82 452.2,549.93 452.43,550.94 452.67,549 452.9,547.3 453.1,547.96 453.3,552.07 453.5,550.03 453.7,554.01 453.9,551.98 454.1,556.1 454.3,558.18 454.6,551.44 454.9,546.93 455.1,549.24 455.3,548.44 455.5,543.31 455.7,543.52 455.9,544.44 456.1,545.46 456.3,542.56 456.52,540.89 456.74,541.72 456.96,538.33 457.18,538.85 457.4,535.77 457.62,538.01 457.85,539.31 458.07,541.09 458.3,543.86 458.5,542.59 458.7,538.59 458.9,537.76 459.1,536.02 459.3,532.3 459.52,531.76 459.73,531 459.95,532.02 460.17,531.49 460.38,531.41 460.6,531 460.82,535.24 461.04,537.25 461.26,534.01 461.48,536.79 461.7,539.64 461.92,539.2 462.14,536.08 462.36,537.86 462.58,536.87 462.8,535.01 463,536.5 463.2,541.23 463.4,544.34 463.6,549.28 463.87,547.31 464.13,544.67 464.4,541.14 464.6,542.99 464.8,542.57 465,546.45 465.2,544.88 465.4,545.9 465.6,545.84 465.8,546.92 466,546.77 466.2,545.85 466.4,547.85 466.6,551.23 466.8,548.46 467.02,546.75 467.23,546.33 467.45,545.48 467.67,548.36 467.88,547.4 468.1,547 468.3,546.64 468.5,546.5 468.7,549.5 468.9,554.25 469.1,553.69 469.32,555.8 469.54,553.97 469.76,552.13 469.98,552.62 470.2,550 470.42,552.78 470.63,552.59 470.85,550.46 471.07,551.05 471.28,555.93 471.5,555.54 471.73,554.81 471.97,552 472.2,550.66 472.43,549.01 472.67,548.7 472.9,550.47 473.12,548.76 473.34,552.37 473.56,550.83 473.78,555.71 474,552.51 474.2,555.42 474.4,553.24 474.6,554.03 474.8,555.94 475,556 475.2,558.61 475.4,556.37 475.6,559.04 475.83,555.51 476.07,557.16 476.3,556.69 476.53,555.98 476.77,555.4 477,555.4 477.22,555.4 477.44,559.03 477.66,556.17 477.88,559.07 478.1,561.12 478.32,560.76 478.53,559.91 478.75,559.68 478.97,562.53 479.18,562.93 479.4,564.64 479.6,565.11 479.8,563.37 480,564.55 480.2,563.89 480.4,565.95 480.62,565.17 480.83,569.17 481.05,568.37 481.27,567.89 481.48,567.97 481.7,572.61 481.93,571.86 482.17,576.29 482.4,579.22 482.63,579.55 482.87,582.83 483.1,584.47 483.33,588.41 483.55,589.72 483.77,591.89 484,594.71 484.23,595.06 484.45,596.56 484.67,597.87 484.9,599.6" class="cv"/>
<path d="M433.2 509.8H495.4" class="m1"/>
<path d="M433.2 507V512.6M495.4 507V512.6" class="m1c"/>
<text x="457.5" y="503.9" class="tt">M1</text>
</g>
<g transform="matrix(1 0.005 -0.0024 1 1.83 -2.04)">
<rect x="298.79" y="664.29" width="217.03" height="199.23" class="box"/>
<path d="M361.1 678.2V821.6M353.5 814.1H497M353.5 814.1H361.1M356.6 797.46H361.1M353.5 780.83H361.1M356.6 764.19H361.1M353.5 747.55H361.1M356.6 730.91H361.1M353.5 714.27H361.1M356.6 697.64H361.1M353.5 681H361.1M374.41 814.1V818.6M382.19 814.1V818.6M387.71 814.1V818.6M391.99 814.1V818.6M395.49 814.1V818.6M398.45 814.1V818.6M401.02 814.1V818.6M403.28 814.1V818.6M418.61 814.1V818.6M426.39 814.1V818.6M431.91 814.1V818.6M436.19 814.1V818.6M439.69 814.1V818.6M442.65 814.1V818.6M445.22 814.1V818.6M447.48 814.1V818.6M405.3 814.1V821.6M462.81 814.1V818.6M470.59 814.1V818.6M476.11 814.1V818.6M480.39 814.1V818.6M483.89 814.1V818.6M486.85 814.1V818.6M489.42 814.1V818.6M491.68 814.1V818.6M449.5 814.1V821.6M493.7 814.1V821.6" class="ax"/>
<text x="347.3" y="816.5" class="tl" text-anchor="end">0</text>
<text x="347.3" y="783.23" class="tl" text-anchor="end">100</text>
<text x="347.3" y="749.95" class="tl" text-anchor="end">200</text>
<text x="347.3" y="716.67" class="tl" text-anchor="end">300</text>
<text x="347.3" y="683.4" class="tl" text-anchor="end">400</text>
<text x="360.6" y="836.4" class="tl" text-anchor="middle">1</text>
<text x="404.8" y="836.4" class="tl" text-anchor="middle">10</text>
<text x="449" y="836.4" class="tl" text-anchor="middle">100</text>
<text x="493.2" y="836.4" class="tl" text-anchor="middle">1000</text>
<text x="430.4" y="856.1" class="at" text-anchor="middle">Annexin V binding</text>
<text transform="translate(318.1 743.8) rotate(-90)" class="at" text-anchor="middle">Counts</text>
<text x="399.75" y="685.5" class="tt">Suspension (16 h)</text>
<text x="399.75" y="699.25" class="tt">M1 = 89.8 %</text>
<polyline points="391.4,813.6 391.6,813.08 391.8,812.04 392,811.12 392.2,810.55 392.4,810.09 392.6,809.6 392.8,809.12 393.02,808.83 393.23,807.81 393.45,806.35 393.67,806.36 393.88,805.98 394.1,804.58 394.33,803.92 394.57,803.75 394.8,801.81 395.03,801.97 395.27,800.14 395.5,801.68 395.72,798.65 395.93,798.47 396.15,797.09 396.37,795.5 396.58,794.98 396.8,796.44 397.03,793.55 397.27,792.3 397.5,792.37 397.73,792.19 397.97,790.43 398.2,789.33 398.4,785.55 398.6,786.1 398.8,785.46 399,782.89 399.2,782.18 399.4,784.28 399.6,779.67 399.82,779.74 400.03,779.25 400.25,780.04 400.47,778.29 400.68,775.78 400.9,775.59 401.1,773.06 401.3,772.95 401.5,770.37 401.7,769.85 401.9,770.75 402.1,769.55 402.3,764.88 402.52,766.38 402.73,765.55 402.95,762.08 403.17,760.98 403.38,760.02 403.6,757.21 403.83,756.54 404.07,757.57 404.3,758.73 404.53,755.12 404.77,756.51 405,756.03 405.23,752.36 405.47,753.64 405.7,748.8 405.93,749.58 406.17,748.98 406.4,746.22 406.62,743.83 406.84,742 407.06,742.38 407.28,741.67 407.5,738.83 407.7,740.86 407.9,732.63 408.1,730.96 408.3,736.52 408.5,731.53 408.7,734.64 408.9,735.71 409.1,736.21 409.33,735.16 409.55,736.94 409.77,732 410,730.65 410.22,727.48 410.44,728.34 410.66,726.31 410.88,726.18 411.1,727.6 411.32,721.64 411.54,727.16 411.76,723.86 411.98,725.17 412.2,726.05 412.4,728.18 412.6,724.83 412.8,723.06 413,720.37 413.2,722.16 413.43,716.02 413.67,715.42 413.9,708.25 414.1,707.9 414.3,713.98 414.5,715.41 414.7,712.88 414.9,709.75 415.1,715.43 415.3,715.49 415.5,713.09 415.72,708.9 415.94,711.71 416.16,714.05 416.38,717.4 416.6,719.35 416.82,718.71 417.04,719.49 417.26,722.34 417.48,717.21 417.7,719.62 417.93,720.4 418.15,716.95 418.38,716.12 418.6,717.9 418.8,722.76 419,718.4 419.2,723.3 419.4,724.61 419.6,727.72 419.82,726.71 420.04,732.79 420.26,734.72 420.48,731.87 420.7,735.57 420.92,740.23 421.13,738.97 421.35,740.22 421.57,742.87 421.78,742.99 422,749.37 422.23,749.43 422.47,750.47 422.7,748.73 422.93,752.52 423.17,753.5 423.4,755.43 423.6,755.59 423.8,760.84 424,760.94 424.2,761.5 424.4,764.75 424.6,763.9 424.8,765.53 425,768.2 425.23,769.66 425.47,769.1 425.7,771.5 425.93,773.56 426.17,774.97 426.4,774.45 426.62,777.54 426.83,779.99 427.05,782 427.27,781.97 427.48,781.96 427.7,785.28 427.9,786.76 428.1,788.97 428.3,786.87 428.5,790.51 428.7,790.79 428.9,790.87 429.1,793.85 429.32,795.61 429.53,796.04 429.75,797.59 429.97,796.76 430.18,798.88 430.4,798.75 430.6,798.98 430.8,800.64 431,801.01 431.2,801.15 431.4,800.68 431.6,800.52 431.8,802.55 432.03,803.84 432.27,802.46 432.5,804.45 432.73,804.57 432.97,806.2 433.2,805.08 433.4,806.51 433.6,807.55 433.8,806.84 434,807.48 434.2,808.7 434.4,807.47 434.6,809.16 434.8,809.14 435,809.01 435.2,810.24 435.41,809.66 435.62,810.06 435.82,810.32 436.03,810.86 436.24,810.24 436.45,810.98 436.65,810.07 436.86,811.27 437.07,811.47 437.28,810.83 437.48,811.15 437.69,811.28 437.9,811.54 438.11,811.63 438.32,811.58 438.52,811.84 438.73,812.16 438.94,812.2 439.15,812.81 439.35,812.67 439.56,812.7 439.77,812.94 439.98,813.23 440.18,813.3 440.39,813.23 440.6,813.6" class="cv"/>
<polyline points="425.9,813.6 426.12,806.28 426.34,800.55 426.56,795.95 426.78,786.29 427,781.3 427.2,775.85 427.4,772.75 427.6,767.93 427.8,762.88 428,760.5 428.2,756.5 428.4,758.6 428.6,754.65 428.8,747.45 429,749.79 429.2,751.11 429.4,744.6 429.6,743.44 429.8,743.02 430.1,742.65 430.4,742.86 430.63,741.52 430.87,746.46 431.1,747.47 431.33,746.96 431.57,737.15 431.8,733.74 432.02,736.54 432.24,732.17 432.46,731 432.68,735.16 432.9,731.34 433.12,731 433.35,732.11 433.57,738.47 433.8,737.23 434,738.03 434.2,738.28 434.4,744.59 434.6,745.91 434.8,747.41 435,741.87 435.2,742.64 435.4,735.55 435.6,735.79 435.8,733.93 436,733.03 436.2,733.48 436.4,730.39 436.6,729.78 436.83,727.35 437.05,730.14 437.27,726.15 437.5,724.92 437.7,725.38 437.9,721.8 438.1,722.66 438.3,720.96 438.5,720.35 438.7,722.82 438.9,719.65 439.1,717.4 439.3,720.33 439.53,722.82 439.77,724.97 440,724.87 440.2,732.52 440.4,730.52 440.6,733.9 440.83,736.56 441.07,731.3 441.3,732.46 441.52,734.66 441.74,736.06 441.96,738.44 442.18,737.98 442.4,740.93 442.6,735.82 442.8,738.87 443,740.38 443.2,738.99 443.4,741.22 443.62,743.44 443.85,744.55 444.07,744.6 444.3,744.13 444.52,741.8 444.74,740.61 444.96,742.1 445.18,739.35 445.4,743.22 445.63,742.73 445.87,741.85 446.1,737.8 446.33,740.06 446.57,741.33 446.8,747.88 447.1,751.59 447.4,750.82 447.63,754.02 447.87,750.86 448.1,749.95 448.32,751.77 448.54,753.8 448.76,753.51 448.98,752.62 449.2,755.52 449.4,753.34 449.6,753.85 449.8,756.18 450,756.92 450.2,758.87 450.43,757.44 450.65,754.15 450.88,755.35 451.1,752.8 451.32,755.05 451.54,754.21 451.76,753.02 451.98,756.05 452.2,757.46 452.42,752.36 452.64,751.8 452.86,751.4 453.08,752.65 453.3,752.28 453.5,756.06 453.7,755.4 453.9,756.7 454.1,757.6 454.3,761.24 454.52,756.2 454.75,754.2 454.98,756.8 455.2,752.9 455.42,752.8 455.64,752.82 455.86,755.74 456.08,756.45 456.3,753.48 456.52,756.06 456.74,755.27 456.96,756.94 457.18,756.17 457.4,754.49 457.6,758.82 457.8,762.72 458,761.67 458.2,765.33 458.4,764.85 458.63,768.21 458.87,768.49 459.1,770.51 459.33,766.87 459.57,765.61 459.8,767.2 460.02,767.72 460.23,767.18 460.45,767.92 460.67,767.99 460.88,767.15 461.1,765 461.33,768.68 461.57,765.7 461.8,767.4 462.03,766.94 462.27,767.71 462.5,770.71 462.72,771.12 462.93,771.6 463.15,774.18 463.37,776.14 463.58,779.97 463.8,783.03 464,781.03 464.2,785.87 464.4,786.48 464.6,786.92 464.8,786.58 465.02,790.45 465.24,792.3 465.46,791.13 465.68,794.21 465.9,793.73 466.12,793.81 466.33,797.77 466.55,797.53 466.77,798.65 466.98,801.38 467.2,802.03 467.4,802.77 467.6,802.72 467.8,804.09 468,804.82 468.2,806.96 468.4,807.61 468.6,807.17 468.8,808.19 469,809.29 469.2,808.73 469.4,810.44 469.6,810.86 469.8,810.53 470,811.45 470.2,812.19 470.4,813.38 470.6,813.6" class="cv"/>
<path d="M425.5 726.4H492.3" class="m1"/>
<path d="M425.5 723.6V729.2M492.3 723.6V729.2" class="m1c"/>
<text x="455.1" y="721.2" class="tt">M1</text>
</g>
</svg>
</body></html>
